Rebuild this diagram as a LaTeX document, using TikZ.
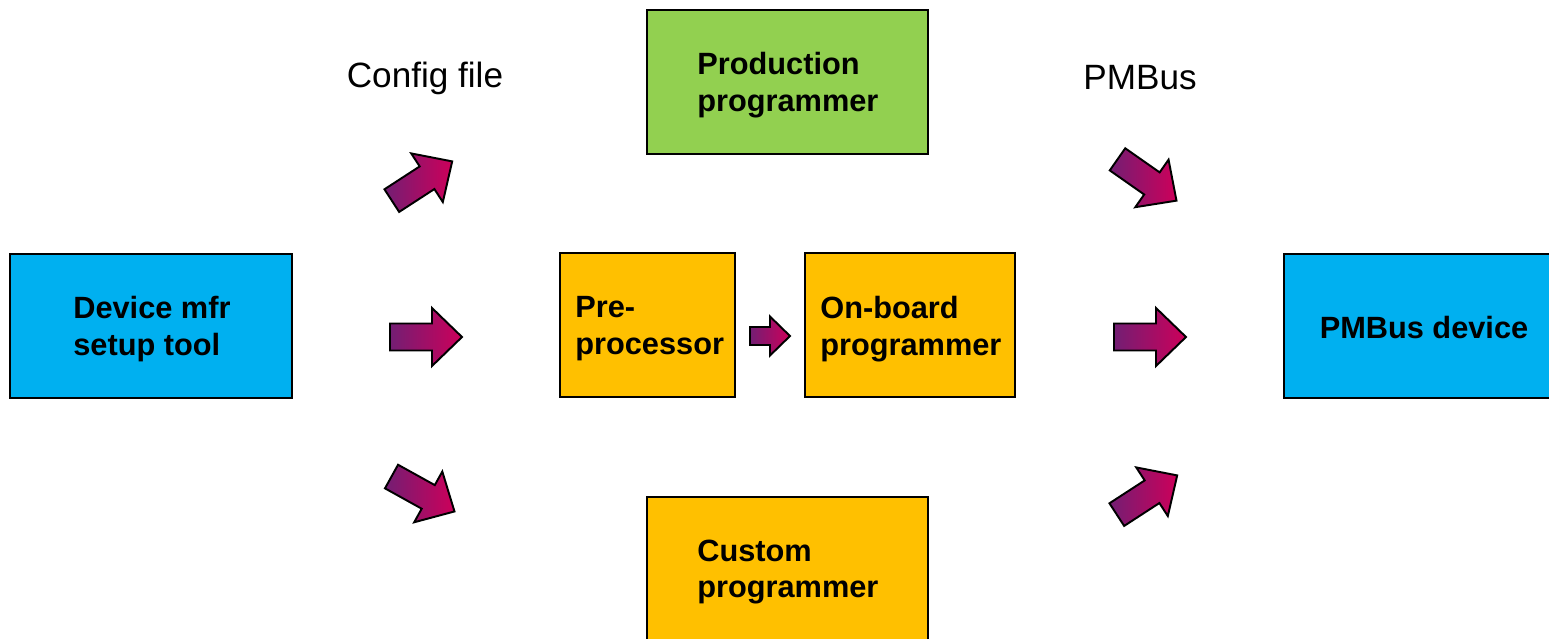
\documentclass[tikz,border=0pt]{standalone}
\usepackage{fontspec}
\setmainfont{Liberation Sans}
\definecolor{devblue}{HTML}{00B0F0}
\definecolor{prodgreen}{HTML}{92D050}
\definecolor{progorange}{HTML}{FFC000}
\definecolor{arrowpurple}{RGB}{115,30,115}
\definecolor{arrowmagenta}{RGB}{205,0,90}
\tikzset{
  box/.style={draw=black, line width=0.9pt},
  boxtext/.style={font=\fontsize{17.5}{21}\selectfont\bfseries, align=left, anchor=west, inner sep=0pt},
  label/.style={font=\fontsize{20}{24}\selectfont, inner sep=0pt},
  blockarrow/.style={draw=black, line width=1.1pt, line join=miter,
    left color=arrowpurple, right color=arrowmagenta},
  % block arrow pointing along +x, centred on the origin
  pics/blockarrow/.style args={#1/#2/#3/#4}{code={
    \path[blockarrow]
      (-#1/2,-#2/2) -- (#1/2-#4,-#2/2) -- (#1/2-#4,-#3/2) -- (#1/2,0)
      -- (#1/2-#4,#3/2) -- (#1/2-#4,#2/2) -- (-#1/2,#2/2) -- cycle;
  }}
}
\begin{document}
\begin{tikzpicture}[x=0.02cm, y=-0.02cm]
\useasboundingbox (0,0) rectangle (1549,639);
\clip (0,0) rectangle (1549,639);

% boxes
\draw[box, fill=devblue] (10,254) rectangle (292,398);
\node[boxtext] (dev) at (73,329) {Device mfr\\setup tool};

\draw[box, fill=prodgreen] (647,10) rectangle (928,154);
\node[boxtext] (prod) at (697,85) {Production\\programmer};

\draw[box, fill=progorange] (560,253) rectangle (735,397);
\node[boxtext] (pre) at (575,329) {Pre-\\processor};

\draw[box, fill=progorange] (805,253) rectangle (1015,397);
\node[boxtext] (onb) at (820,329) {On-board\\programmer};

\draw[box, fill=progorange] (647,497) rectangle (928,660);
\node[boxtext] (cust) at (697,572) {Custom\\programmer};

\draw[box, fill=devblue] (1284,254) rectangle (1570,398);
\node[boxtext, anchor=center] (pmdev) at (1424,328) {PMBus device};

% labels
\node[label] (cfg) at (425,78) {Config file};
\node[label] (pmb) at (1140,78) {PMBus};

% block arrows
\pic[shift={(422,181)}, rotate=33] {blockarrow={72/27/58/30}};
\pic[shift={(426,337)}] {blockarrow={72/27/58/30}};
\pic[shift={(423,494)}, rotate=-29] {blockarrow={72/27/58/30}};
\pic[shift={(770,336)}] {blockarrow={40/18/39/20}};
\pic[shift={(1147,180)}, rotate=-35] {blockarrow={72/27/58/30}};
\pic[shift={(1150,337)}] {blockarrow={72/27/58/30}};
\pic[shift={(1147,495)}, rotate=33] {blockarrow={72/27/58/30}};
\end{tikzpicture}
\end{document}
